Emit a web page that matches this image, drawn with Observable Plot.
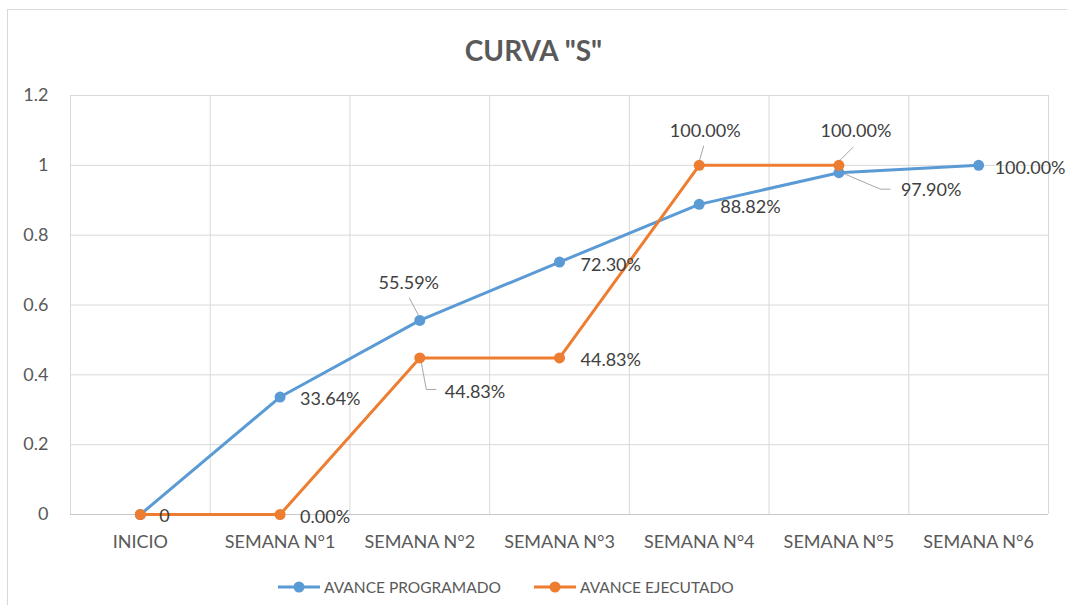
<!DOCTYPE html>
<html>
<head>
<meta charset="utf-8">
<script src="https://cdn.jsdelivr.net/npm/d3@7"></script>
<script src="https://cdn.jsdelivr.net/npm/@observablehq/plot@0.6"></script>
<style>
  html, body { margin: 0; padding: 0; background: #fff; }
  body { width: 1067px; height: 605px; position: relative; overflow: hidden; font-family: Lato, "Open Sans", sans-serif; }
  #frame { position: absolute; left: 7px; top: 9px; width: 1080px; height: 640px; border: 1px solid #d9d9d9; box-sizing: border-box; }
  #title { position: absolute; left: 0; width: 1067px; top: 33px; text-align: center; font-size: 28px; font-weight: bold; color: #595959; line-height: 34px; }
  #chart { position: absolute; left: 0; top: 80px; }
  .leg { position: absolute; top: 578px; display: flex; align-items: center; font-size: 15.5px; color: #595959; white-space: nowrap; }
  .leg svg { margin-right: 4px; }
</style>
</head>
<body>
<div id="frame"></div>
<div id="title">CURVA "S"</div>
<div id="chart"></div>
<div class="leg" id="leg1"></div>
<div class="leg" id="leg2"></div>
<script>
// ---- data ----
const categories = ["INICIO", "SEMANA N°1", "SEMANA N°2", "SEMANA N°3", "SEMANA N°4", "SEMANA N°5", "SEMANA N°6"];
const programado = [0, 0.3364, 0.5559, 0.7230, 0.8882, 0.9790, 1.0];
const ejecutado = [0, 0, 0.4483, 0.4483, 1.0, 1.0];
const labelsProgramado = ["0", "33.64%", "55.59%", "72.30%", "88.82%", "97.90%", "100.00%"];
const labelsEjecutado = ["", "0.00%", "44.83%", "44.83%", "100.00%", "100.00%"];
const yTicks = [0, 0.2, 0.4, 0.6, 0.8, 1, 1.2];
const seriesNames = ["AVANCE PROGRAMADO", "AVANCE EJECUTADO"];

// ---- styling / label layout (pixel offsets) ----
const BLUE = "#5B9BD5", ORANGE = "#ED7D31";
const progLayout = [
  {dx: 19, dy: 2, anchor: "start"},
  {dx: 20, dy: 2, anchor: "start"},
  {dx: -11, dy: -37, anchor: "middle"},
  {dx: 21, dy: 3, anchor: "start"},
  {dx: 21, dy: 3, anchor: "start"},
  {dx: 62, dy: 18, anchor: "start"},
  {dx: 16, dy: 3, anchor: "start"}
];
const ejecLayout = [
  {dx: 19, dy: 2, anchor: "start"},
  {dx: 20, dy: 3, anchor: "start"},
  {dx: 25, dy: 34, anchor: "start"},
  {dx: 21, dy: 2, anchor: "start"},
  {dx: 6, dy: -34, anchor: "middle"},
  {dx: 17, dy: -34, anchor: "middle"}
];
const leaders = [
  {values: programado, i: 2, pts: [[-10, -22], [0, -3]]},
  {values: programado, i: 5, pts: [[2, 0], [42, 17], [52, 17]]},
  {values: ejecutado, i: 2, pts: [[2, 5], [7, 32], [17, 32]]},
  {values: ejecutado, i: 4, pts: [[1, -5], [5, -19]]},
  {values: ejecutado, i: 5, pts: [[0, -3], [15, -18]]}
];

const idxP = d3.range(programado.length);
const idxE = d3.range(ejecutado.length);
const bounds = d3.range(categories.length + 1).map(k => k - 0.5);

function labelMarks(values, labels, layout) {
  return labels.map((t, i) => t === "" ? null : Plot.text([i], {
    x: d => d, y: d => values[d], text: d => labels[d],
    dx: layout[i].dx, dy: layout[i].dy, textAnchor: layout[i].anchor,
    lineAnchor: "middle", fill: "#404040", fontSize: 18
  })).filter(Boolean);
}

const leaderMark = (index, scales) => {
  const g = d3.create("svg:g").attr("fill", "none").attr("stroke", "#a6a6a6").attr("stroke-width", 1);
  for (const L of leaders) {
    const px = scales.x(L.i), py = scales.y(L.values[L.i]);
    g.append("polyline").attr("points", L.pts.map(([a, b]) => `${px + a},${py + b}`).join(" "));
  }
  return g.node();
};

const plot = Plot.plot({
  width: 1067,
  height: 480,
  marginLeft: 70,
  marginRight: 19,
  marginTop: 15,
  marginBottom: 46,
  style: {fontFamily: "Lato, 'Open Sans', sans-serif", fontSize: "18px", color: "#595959", background: "transparent", overflow: "visible"},
  x: {type: "linear", domain: [-0.5, categories.length - 0.5]},
  y: {domain: [0, 1.2]},
  marks: [
    Plot.ruleX(bounds, {x: d => d, stroke: "#d9d9d9", strokeWidth: 1}),
    Plot.ruleY(yTicks, {y: d => d, stroke: "#d9d9d9", strokeWidth: 1}),
    Plot.ruleY([0], {stroke: "#c8c8c8", strokeWidth: 1}),
    Plot.axisX({ticks: d3.range(categories.length), tickFormat: i => categories[i], tickSize: 0, tickPadding: 21, label: null, fontSize: 18}),
    Plot.axisY({ticks: yTicks, tickFormat: d => String(d), tickSize: 0, tickPadding: 22, label: null, fontSize: 18}),
    leaderMark,
    Plot.line(idxP, {x: d => d, y: d => programado[d], stroke: BLUE, strokeWidth: 3}),
    Plot.dot(idxP, {x: d => d, y: d => programado[d], r: 5.5, fill: BLUE}),
    Plot.line(idxE, {x: d => d, y: d => ejecutado[d], stroke: ORANGE, strokeWidth: 3}),
    Plot.dot(idxE, {x: d => d, y: d => ejecutado[d], r: 5.5, fill: ORANGE}),
    ...labelMarks(programado, labelsProgramado, progLayout),
    ...labelMarks(ejecutado, labelsEjecutado, ejecLayout)
  ]
});
document.getElementById("chart").appendChild(plot);

// ---- legend ----
function legendItem(el, color, name, left) {
  el.style.left = left + "px";
  el.innerHTML = `<svg width="42" height="14"><line x1="0" y1="7" x2="42" y2="7" stroke="${color}" stroke-width="3"/><circle cx="21" cy="7" r="5.5" fill="${color}"/></svg><span>${name}</span>`;
}
legendItem(document.getElementById("leg1"), BLUE, seriesNames[0], 278);
legendItem(document.getElementById("leg2"), ORANGE, seriesNames[1], 534);
</script>
</body>
</html>
